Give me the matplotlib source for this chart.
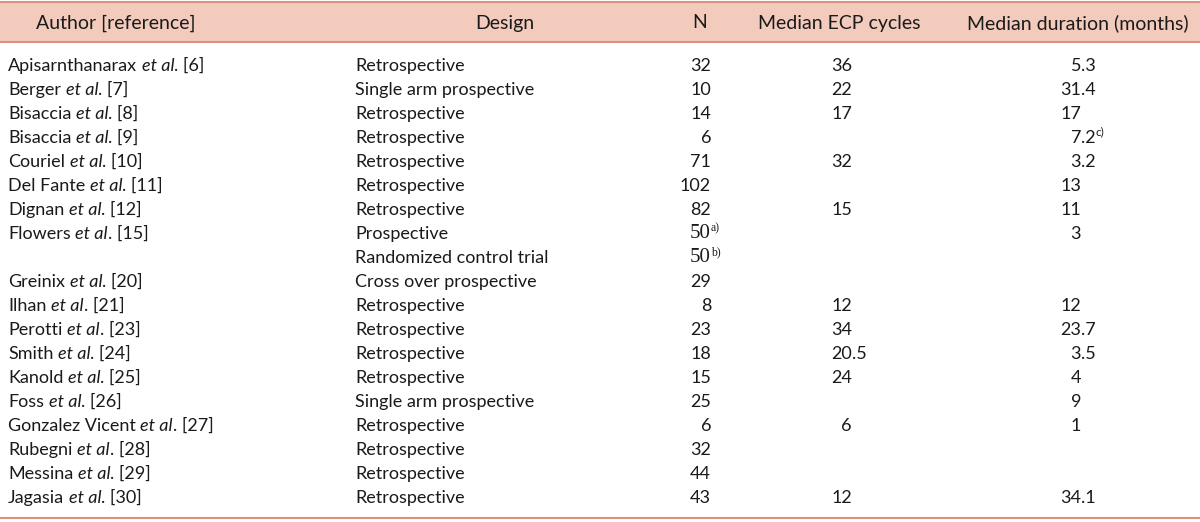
import matplotlib
matplotlib.use("Agg")
import matplotlib.pyplot as plt
from matplotlib.patches import Rectangle

# table data
authors = ["Apisarnthanarax", "Berger", "Bisaccia", "Bisaccia", "Couriel", "Del Fante",
           "Dignan", "Flowers", "", "Greinix", "Ilhan", "Perotti", "Smith", "Kanold",
           "Foss", "Gonzalez Vicent", "Rubegni", "Messina", "Jagasia"]
refs = ["6", "7", "8", "9", "10", "11", "12", "15", "", "20", "21", "23", "24", "25",
        "26", "27", "28", "29", "30"]
design = ["Retrospective", "Single arm prospective", "Retrospective", "Retrospective",
          "Retrospective", "Retrospective", "Retrospective", "Prospective",
          "Randomized control trial", "Cross over prospective", "Retrospective",
          "Retrospective", "Retrospective", "Retrospective", "Single arm prospective",
          "Retrospective", "Retrospective", "Retrospective", "Retrospective"]
n_pat = ["32", "10", "14", "6", "71", "102", "82", "50", "50", "29", "8", "23", "18",
         "15", "25", "6", "32", "44", "43"]
n_notes = ["", "", "", "", "", "", "", "a)", "b)", "", "", "", "", "", "", "", "", "", ""]
ecp = ["36", "22", "17", "", "32", "", "15", "", "", "", "12", "34", "20.5", "24", "",
       "6", "", "", "12"]
duration = ["5.3", "31.4", "17", "7.2", "3.2", "13", "11", "3", "", "", "12", "23.7",
            "3.5", "4", "9", "1", "", "", "34.1"]
dur_notes = ["", "", "", "c)", "", "", "", "", "", "", "", "", "", "", "", "", "", "", ""]
headers = ["Author [reference]", "Design", "N", "Median ECP cycles", "Median duration (months)"]

FONT = "Lato"
FS = 13
TXT = "#1a1a1a"

fig = plt.figure(figsize=(12, 5.22), dpi=100)
ax = fig.add_axes([0, 0, 1, 1])
ax.set_xlim(0, 1200)
ax.set_ylim(522, 0)
ax.axis("off")

# header band and rules
ax.add_patch(Rectangle((0, 2), 1200, 40, facecolor="#f3cbbd", edgecolor="none"))
ax.axhline(2, color="#d9937c", lw=1.5)
ax.axhline(42, color="#d9937c", lw=1.5)
ax.axhline(518, color="#d9937c", lw=1.5)

hx = [116, 505, 700, 839, 1078]
for x, h in zip(hx, headers):
    ax.text(x, 23, h, ha="center", va="center", fontsize=14, family=FONT, color=TXT)

renderer = fig.canvas.get_renderer()


def put(x, y, s, **kw):
    t = ax.text(x, y, s, va="center", family=FONT, fontsize=FS, color=TXT, **kw)
    bb = t.get_window_extent(renderer)
    return x + bb.width


def width(s):
    t = ax.text(0, 0, s, family=FONT, fontsize=FS)
    w = t.get_window_extent(renderer).width
    t.remove()
    return w


def num(xr, y, s, note="", serif=False):
    # integer part right aligned at xr, decimals hang to the right
    fam = "Liberation Serif" if serif else FONT
    ip, _, fp = s.partition(".")
    ax.text(xr, y, ip, ha="right", va="center", family=fam, fontsize=FS + (2 if serif else 0), color=TXT)
    x = xr
    if fp:
        x = put(xr, y, "." + fp)
    if note:
        ax.text(x, y - 6, note, ha="left", va="center", family=fam, fontsize=8.5, color=TXT)


sp = width("a a") - width("aa")

y0, dy = 66, 24
for i in range(len(design)):
    y = y0 + i * dy
    if authors[i]:
        x = put(8, y, authors[i])
        x = put(x + sp, y, "et al", style="italic")
        put(x, y, ". [" + refs[i] + "]")
    ax.text(355, y, design[i], ha="left", va="center", family=FONT, fontsize=FS, color=TXT)
    num(711, y, n_pat[i], n_notes[i], serif=bool(n_notes[i]))
    if ecp[i]:
        num(852, y, ecp[i])
    if duration[i]:
        num(1081, y, duration[i], dur_notes[i])

fig.savefig("out.png", dpi=100, facecolor="white")
